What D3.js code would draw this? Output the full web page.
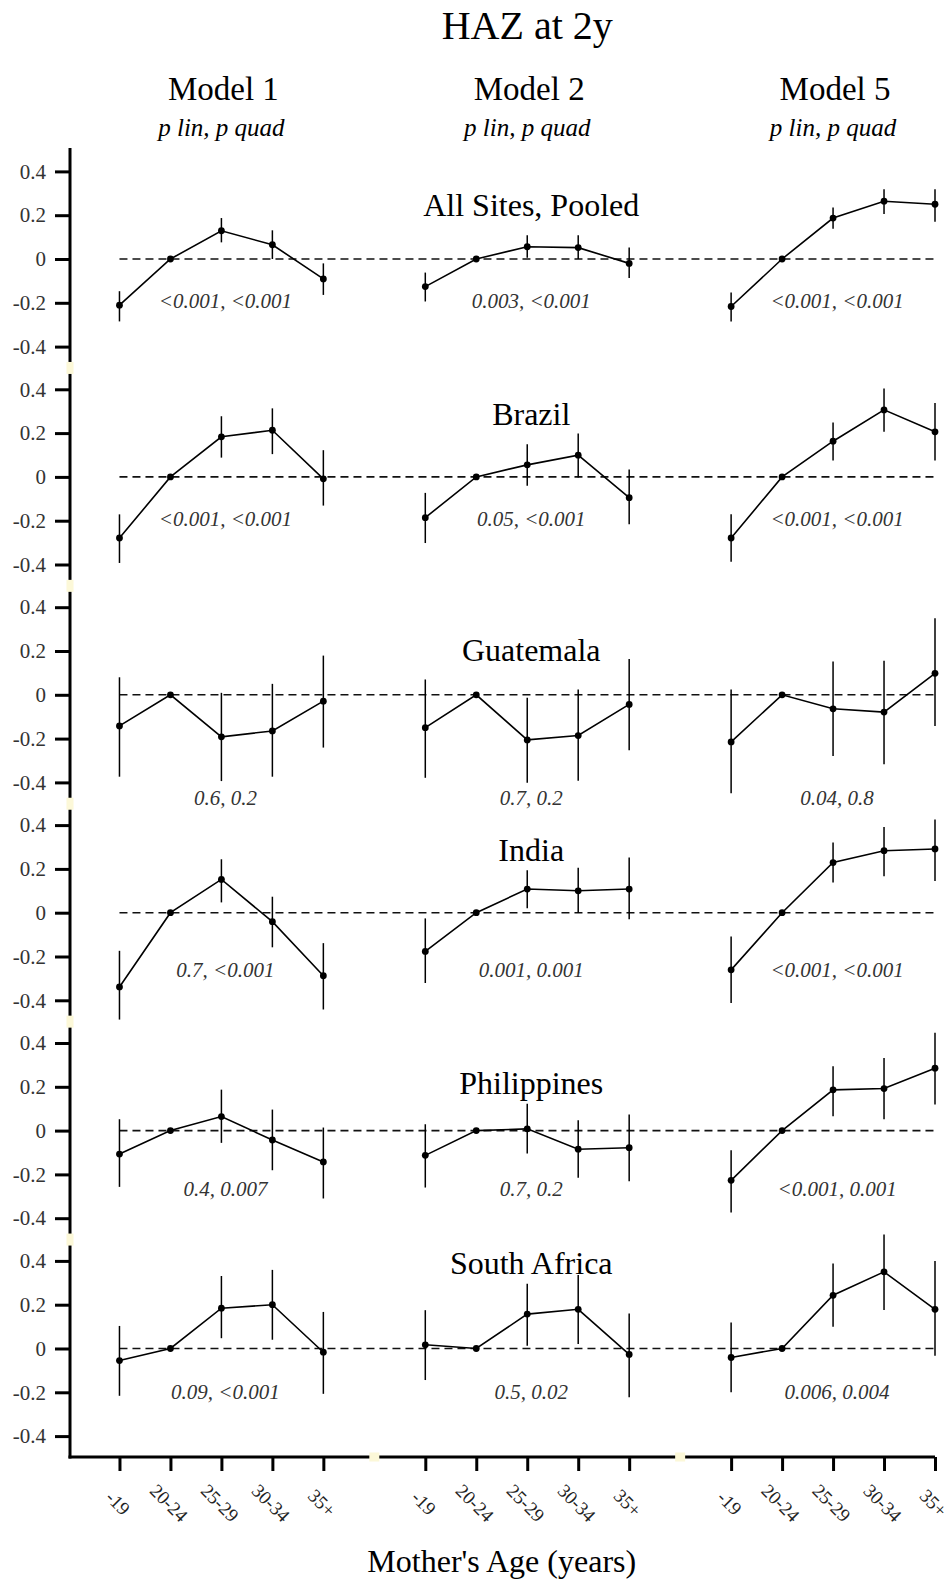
<!DOCTYPE html>
<html>
<head>
<meta charset="utf-8">
<script src="https://cdn.jsdelivr.net/npm/d3@7"></script>
<style>
body { margin: 0; background: #fff; }
svg { display: block; font-family: "Liberation Serif", "Times New Roman", serif; }
</style>
</head>
<body>
<script>
// chart data
const models = ["Model 1", "Model 2", "Model 5"];
const ageGroups = ["-19", "20-24", "25-29", "30-34", "35+"];
const sites = ["All Sites, Pooled", "Brazil", "Guatemala", "India", "Philippines", "South Africa"];
const yTicks = [-0.4, -0.2, 0, 0.2, 0.4];

// estimates[site][model][age], 20-24 is the reference group
const estimates = [
	[[-0.211, 0, 0.129, 0.065, -0.091], [-0.126, 0, 0.056, 0.052, -0.02], [-0.217, 0, 0.187, 0.264, 0.25]],
	[[-0.279, 0, 0.183, 0.213, -0.009], [-0.186, 0, 0.055, 0.099, -0.095], [-0.279, 0, 0.163, 0.306, 0.206]],
	[[-0.142, 0, -0.192, -0.165, -0.029], [-0.15, 0, -0.206, -0.186, -0.044], [-0.215, 0, -0.064, -0.079, 0.098]],
	[[-0.339, 0, 0.152, -0.041, -0.288], [-0.177, 0, 0.108, 0.1, 0.108], [-0.261, 0, 0.229, 0.283, 0.291]],
	[[-0.107, 0, 0.064, -0.043, -0.143], [-0.113, 0, 0.008, -0.085, -0.078], [-0.227, 0, 0.186, 0.192, 0.285]],
	[[-0.055, 0, 0.184, 0.2, -0.017], [0.017, 0, 0.157, 0.179, -0.027], [-0.041, 0, 0.243, 0.35, 0.179]]
];
const lowerCI = [
	[[-0.285, null, 0.076, 0.0, -0.164], [-0.194, null, 0.006, 0.0, -0.087], [-0.285, null, 0.138, 0.206, 0.17]],
	[[-0.393, null, 0.088, 0.104, -0.131], [-0.302, null, -0.04, -0.003, -0.216], [-0.387, null, 0.075, 0.206, 0.075]],
	[[-0.374, null, -0.394, -0.374, -0.241], [-0.379, null, -0.402, -0.392, -0.253], [-0.45, null, -0.28, -0.317, -0.142]],
	[[-0.488, null, 0.047, -0.158, -0.442], [-0.321, null, 0.02, 0.0, -0.03], [-0.412, null, 0.138, 0.167, 0.145]],
	[[-0.257, null, -0.056, -0.181, -0.31], [-0.26, null, -0.105, -0.215, -0.231], [-0.374, null, 0.065, 0.052, 0.119]],
	[[-0.216, null, 0.047, 0.04, -0.207], [-0.144, null, 0.012, 0.02, -0.223], [-0.2, null, 0.099, 0.176, -0.033]]
];
const upperCI = [
	[[-0.147, null, 0.187, 0.131, -0.02], [-0.062, null, 0.109, 0.108, 0.052], [-0.153, null, 0.235, 0.319, 0.319]],
	[[-0.171, null, 0.277, 0.313, 0.122], [-0.073, null, 0.149, 0.198, 0.034], [-0.171, null, 0.248, 0.404, 0.338]],
	[[0.08, null, 0.009, 0.05, 0.179], [0.07, null, -0.014, 0.024, 0.164], [0.024, null, 0.152, 0.156, 0.35]],
	[[-0.174, null, 0.244, 0.073, -0.139], [-0.026, null, 0.194, 0.205, 0.252], [-0.109, null, 0.32, 0.391, 0.426]],
	[[0.052, null, 0.187, 0.096, 0.014], [0.029, null, 0.123, 0.047, 0.073], [-0.09, null, 0.294, 0.332, 0.447]],
	[[0.103, null, 0.331, 0.359, 0.167], [0.175, null, 0.296, 0.336, 0.16], [0.119, null, 0.388, 0.52, 0.4]]
];
// p lin, p quad
const pValues = [
	["<0.001, <0.001", "0.003, <0.001", "<0.001, <0.001"],
	["<0.001, <0.001", "0.05, <0.001", "<0.001, <0.001"],
	["0.6, 0.2", "0.7, 0.2", "0.04, 0.8"],
	["0.7, <0.001", "0.001, 0.001", "<0.001, <0.001"],
	["0.4, 0.007", "0.7, 0.2", "<0.001, 0.001"],
	["0.09, <0.001", "0.5, 0.02", "0.006, 0.004"]
];

// layout (label heights in panel units)
const siteLabelY = [0.195, 0.235, 0.153, 0.235, 0.168, 0.341];
const pLabelY = [-0.19, -0.19, -0.47, -0.26, -0.265, -0.2];

const width = 951, height = 1583;
const axisX = 70, axisBottom = 1457;
const zero0 = 259, panelStep = 217.9, unit = 219;

let svg = d3.select("body").append("svg")
	.attr("width", width)
	.attr("height", height);

// one slot per age group, an empty slot between models
let x = d3.scaleLinear().domain([0, 17]).range([68.5, 935]);
let slot = (m, a) => m * 6 + a + 1;

let yPanel = i => {
	let z = zero0 + i * panelStep;
	return d3.scaleLinear().domain([-0.4, 0.4]).range([z + 0.4 * unit, z - 0.4 * unit]);
};

//titles
svg.append("text")
	.attr("x", x(9)).attr("y", 39)
	.attr("text-anchor", "middle")
	.style("font-size", "40px")
	.text("HAZ at 2y");

models.forEach((m, j) => {
	svg.append("text")
		.attr("x", x(slot(j, 2)) + 2).attr("y", 100)
		.attr("text-anchor", "middle")
		.style("font-size", "33px")
		.text(m);
	svg.append("text")
		.attr("x", x(slot(j, 2))).attr("y", 136)
		.attr("text-anchor", "middle")
		.style("font-size", "25px")
		.style("font-style", "italic")
		.text("p lin, p quad");
});

//panels
let line = d3.line().x(d => x(d.pos)).y(d => d.y);

sites.forEach((site, i) => {
	let y = yPanel(i);
	let g = svg.append("g");

	// y ticks
	let ax = g.append("g")
		.attr("transform", `translate(${axisX},0)`)
		.call(d3.axisLeft(y).tickValues(yTicks)
			.tickFormat(d => d === 0 ? "0" : d.toFixed(1))
			.tickSize(15).tickPadding(9));
	ax.attr("font-family", null).attr("font-size", null);
	ax.select(".domain").remove();
	ax.selectAll("line").attr("stroke", "#000").attr("stroke-width", 3);
	ax.selectAll("text")
		.style("font-size", "21px")
		.attr("fill", "#333");

	// reference line
	g.append("line")
		.attr("x1", x(1)).attr("x2", x(17))
		.attr("y1", y(0)).attr("y2", y(0))
		.attr("stroke", "#111")
		.attr("stroke-width", 1.6)
		.attr("stroke-dasharray", "8,5");

	g.append("text")
		.attr("x", x(9) + 4).attr("y", y(siteLabelY[i]))
		.attr("text-anchor", "middle")
		.style("font-size", "32px")
		.text(site);

	models.forEach((m, j) => {
		let pts = ageGroups.map((a, k) => ({
			pos: slot(j, k),
			y: y(estimates[i][j][k]),
			lo: lowerCI[i][j][k],
			hi: upperCI[i][j][k]
		}));

		g.selectAll(null)
			.data(pts.filter(d => d.lo !== null))
			.enter().append("line")
			.attr("x1", d => x(d.pos)).attr("x2", d => x(d.pos))
			.attr("y1", d => y(d.lo)).attr("y2", d => y(d.hi))
			.attr("stroke", "#000")
			.attr("stroke-width", 1.5);

		g.append("path")
			.attr("d", line(pts))
			.attr("fill", "none")
			.attr("stroke", "#000")
			.attr("stroke-width", 1.6);

		g.selectAll(null)
			.data(pts)
			.enter().append("circle")
			.attr("cx", d => x(d.pos))
			.attr("cy", d => d.y)
			.attr("r", 3.4);

		g.append("text")
			.attr("x", x(slot(j, 2)) + 4).attr("y", y(pLabelY[i]) + 7)
			.attr("text-anchor", "middle")
			.attr("fill", "#333")
			.style("font-size", "21px")
			.style("font-style", "italic")
			.text(pValues[i][j]);
	});
});

//axes lines
svg.append("line")
	.attr("x1", axisX).attr("x2", axisX)
	.attr("y1", 148).attr("y2", axisBottom + 1.5)
	.attr("stroke", "#000").attr("stroke-width", 3);

let xTicks = [];
models.forEach((m, j) => ageGroups.forEach((a, k) => xTicks.push({ pos: slot(j, k), label: a })));

let xa = svg.append("g")
	.attr("transform", `translate(0,${axisBottom})`)
	.call(d3.axisBottom(x).tickValues(xTicks.map(d => d.pos))
		.tickFormat((d, k) => xTicks[k].label)
		.tickSize(14).tickSizeOuter(0));
xa.attr("font-family", null).attr("font-size", null);
xa.select(".domain").remove();
xa.selectAll("line").attr("stroke", "#000").attr("stroke-width", 3);
xa.selectAll("text")
	.attr("y", null).attr("dy", null)
	.attr("dominant-baseline", "central")
	.attr("text-anchor", "middle")
	.attr("transform", "translate(-2,46) rotate(45)")
	.attr("fill", "#222")
	.style("font-size", "19px");

svg.append("line")
	.attr("x1", axisX - 1.5).attr("x2", x(17))
	.attr("y1", axisBottom).attr("y2", axisBottom)
	.attr("stroke", "#000").attr("stroke-width", 3);

// little pale marks where the axis is broken between panels / models
let marks = [];
for (let i = 0; i < 5; i++) marks.push([axisX, zero0 + (i + 0.5) * panelStep, 7, 12]);
marks.push([x(6), axisBottom, 10, 9]);
marks.push([x(12), axisBottom, 10, 9]);
svg.selectAll(".mark")
	.data(marks)
	.enter().append("rect")
	.attr("x", d => d[0] - d[2] / 2)
	.attr("y", d => d[1] - d[3] / 2)
	.attr("width", d => d[2])
	.attr("height", d => d[3])
	.attr("fill", "#fcf8d8");

svg.append("text")
	.attr("x", x(8.5)).attr("y", 1572)
	.attr("text-anchor", "middle")
	.style("font-size", "32px")
	.text("Mother's Age (years)");
</script>
</body>
</html>
